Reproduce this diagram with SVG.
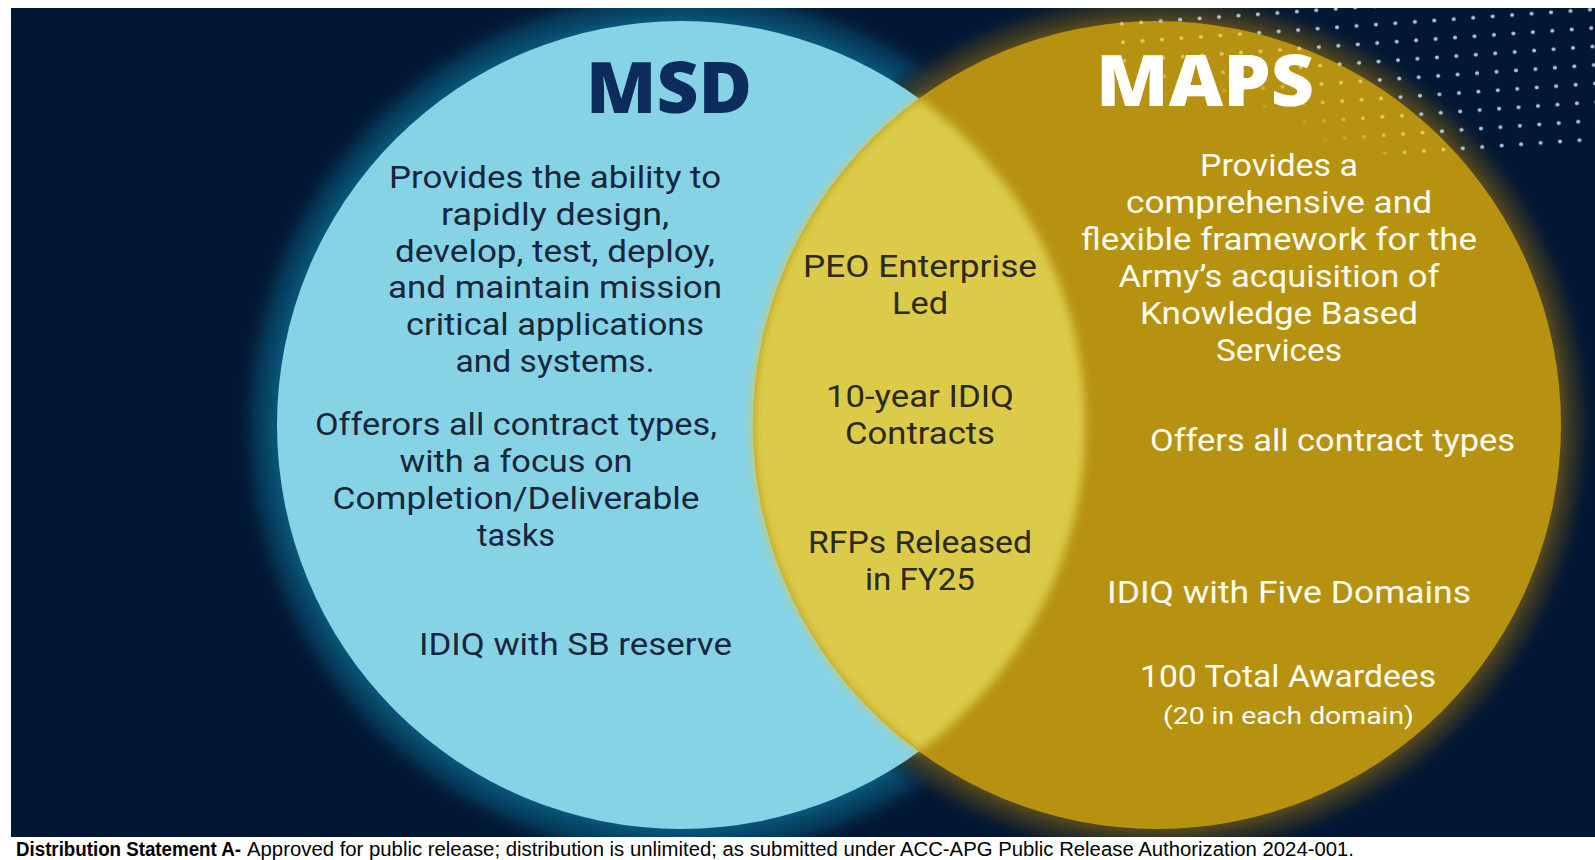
<svg xmlns="http://www.w3.org/2000/svg" width="1595" height="860" viewBox="0 0 1595 860">
  <defs>
    <style>
      .body{font-family:Roboto,"Open Sans","Liberation Sans",sans-serif;font-size:30.5px;text-anchor:middle}
      .small{font-size:24px}
      .dark{fill:#17263a}
      .mid{fill:#2b2a1d}
      .light{fill:#fffdf2}
      .head{font-family:"Open Sans","Liberation Sans",sans-serif;font-weight:800;font-size:70px;text-anchor:middle}
      .foot{font-family:"Liberation Sans",Arial,sans-serif;font-size:20px;fill:#000}
      .footb{font-weight:700}
    </style>
    <clipPath id="panelClip"><rect x="11" y="8" width="1584" height="829"/></clipPath>
    <clipPath id="mapsClip"><circle cx="1157" cy="425" r="404"/></clipPath>
    <radialGradient id="msdGlow" gradientUnits="userSpaceOnUse" cx="681" cy="425" r="448">
      <stop offset="0.88" stop-color="#0a5b7c"/>
      <stop offset="0.9" stop-color="#09587a"/>
      <stop offset="0.95" stop-color="#063e5e" stop-opacity="0.8"/>
      <stop offset="1" stop-color="#021734" stop-opacity="0"/>
    </radialGradient>
    <radialGradient id="mapsGlow" gradientUnits="userSpaceOnUse" cx="1157" cy="425" r="440">
      <stop offset="0.9" stop-color="#5e4f1c"/>
      <stop offset="0.918" stop-color="#56491e"/>
      <stop offset="0.96" stop-color="#2e3026" stop-opacity="0.7"/>
      <stop offset="1" stop-color="#021734" stop-opacity="0"/>
    </radialGradient>
    <radialGradient id="edgeBand" gradientUnits="userSpaceOnUse" cx="1157" cy="425" r="404">
      <stop offset="0.8" stop-color="#fff" stop-opacity="0"/>
      <stop offset="0.93" stop-color="#fff" stop-opacity="1"/>
    </radialGradient>
    <mask id="edgeMask" maskUnits="userSpaceOnUse" x="0" y="0" width="1595" height="860">
      <rect x="0" y="0" width="1595" height="860" fill="url(#edgeBand)"/>
    </mask>
    <pattern id="dotsCool" width="19.5" height="18.5" patternUnits="userSpaceOnUse" patternTransform="rotate(-4 1595 0)">
      <circle cx="9.75" cy="9.25" r="2" fill="#c4e4f1"/>
    </pattern>
    <pattern id="dotsWarm" width="19.5" height="18.5" patternUnits="userSpaceOnUse" patternTransform="rotate(-4 1595 0)">
      <circle cx="9.75" cy="9.25" r="2" fill="#efd97a"/>
    </pattern>
    <filter id="soften" x="-10%" y="-10%" width="120%" height="120%">
      <feGaussianBlur stdDeviation="5"/>
    </filter>
  </defs>

  <!-- page and dark panel -->
  <rect x="0" y="0" width="1595" height="860" fill="#ffffff"/>
  <g id="backdrop" clip-path="url(#panelClip)">
    <rect x="11" y="8" width="1584" height="829" fill="#021734"/>
    <circle cx="681" cy="425" r="448" fill="url(#msdGlow)"/>
    <circle cx="1157" cy="425" r="440" fill="url(#mapsGlow)"/>
    <rect x="1110" y="8" width="485" height="146" fill="url(#dotsCool)" opacity="0.85"/>

    <g id="msd-circle">
      <circle cx="681" cy="425" r="404" fill="#87d3e6"/>
    </g>
    <g id="maps-circle">
      <circle cx="1157" cy="425" r="404" fill="#b79211"/>
      <g clip-path="url(#mapsClip)">
        <rect x="1110" y="8" width="485" height="146" fill="url(#dotsWarm)" mask="url(#edgeMask)" opacity="0.8"/>
      </g>
    </g>
    <g id="overlap-lens">
      <path d="M919,98.5 A404,404 0 0,1 919,751.5 A404,404 0 0,1 919,98.5 Z" fill="#dbcb48" filter="url(#soften)"/>
    </g>
  </g>

  <!-- MSD labels -->
  <g id="msd">
    <text class="head" x="669" y="113" fill="#0c2c5e" textLength="166" lengthAdjust="spacingAndGlyphs">MSD</text>
    <g class="body dark">
      <text x="555" y="188" textLength="332" lengthAdjust="spacingAndGlyphs">Provides the ability to</text>
      <text x="555" y="224.8" textLength="228" lengthAdjust="spacingAndGlyphs">rapidly design,</text>
      <text x="555" y="261.6" textLength="320" lengthAdjust="spacingAndGlyphs">develop, test, deploy,</text>
      <text x="555" y="298.4" textLength="334" lengthAdjust="spacingAndGlyphs">and maintain mission</text>
      <text x="555" y="335.2" textLength="298" lengthAdjust="spacingAndGlyphs">critical applications</text>
      <text x="555" y="372" textLength="199" lengthAdjust="spacingAndGlyphs">and systems.</text>
      <text x="516" y="435" textLength="402" lengthAdjust="spacingAndGlyphs">Offerors all contract types,</text>
      <text x="516" y="472" textLength="233" lengthAdjust="spacingAndGlyphs">with a focus on</text>
      <text x="516" y="509" textLength="367" lengthAdjust="spacingAndGlyphs">Completion/Deliverable</text>
      <text x="516" y="546" textLength="78" lengthAdjust="spacingAndGlyphs">tasks</text>
      <text x="575.5" y="655" textLength="313" lengthAdjust="spacingAndGlyphs">IDIQ with SB reserve</text>
    </g>
  </g>

  <!-- shared items -->
  <g id="overlap">
    <g class="body mid">
      <text x="920" y="277" textLength="234" lengthAdjust="spacingAndGlyphs">PEO Enterprise</text>
      <text x="920" y="313.5" textLength="56" lengthAdjust="spacingAndGlyphs">Led</text>
      <text x="920" y="407" textLength="188" lengthAdjust="spacingAndGlyphs">10-year IDIQ</text>
      <text x="920" y="443.5" textLength="150" lengthAdjust="spacingAndGlyphs">Contracts</text>
      <text x="920" y="553" textLength="224" lengthAdjust="spacingAndGlyphs">RFPs Released</text>
      <text x="920" y="590" textLength="110" lengthAdjust="spacingAndGlyphs">in FY25</text>
    </g>
  </g>

  <!-- MAPS labels -->
  <g id="maps">
    <text class="head" x="1205" y="106" fill="#ffffff" textLength="218" lengthAdjust="spacingAndGlyphs">MAPS</text>
    <g class="body light">
      <text x="1279" y="176" textLength="158" lengthAdjust="spacingAndGlyphs">Provides a</text>
      <text x="1279" y="213" textLength="306" lengthAdjust="spacingAndGlyphs">comprehensive and</text>
      <text x="1279" y="250" textLength="396" lengthAdjust="spacingAndGlyphs">flexible framework for the</text>
      <text x="1279" y="287" textLength="321" lengthAdjust="spacingAndGlyphs">Army’s acquisition of</text>
      <text x="1279" y="323.5" textLength="278" lengthAdjust="spacingAndGlyphs">Knowledge Based</text>
      <text x="1279" y="361" textLength="126" lengthAdjust="spacingAndGlyphs">Services</text>
      <text x="1332.5" y="451" textLength="365" lengthAdjust="spacingAndGlyphs">Offers all contract types</text>
      <text x="1289" y="603" textLength="364" lengthAdjust="spacingAndGlyphs">IDIQ with Five Domains</text>
      <text x="1288" y="687" textLength="296" lengthAdjust="spacingAndGlyphs">100 Total Awardees</text>
      <text class="small" x="1288.5" y="724" textLength="251" lengthAdjust="spacingAndGlyphs">(20 in each domain)</text>
    </g>
  </g>

  <!-- release statement -->
  <g id="footer">
    <text class="foot footb" x="16" y="856" textLength="225" lengthAdjust="spacingAndGlyphs">Distribution Statement A-</text>
    <text class="foot" x="247" y="856" textLength="1107" lengthAdjust="spacingAndGlyphs">Approved for public release; distribution is unlimited; as submitted under ACC-APG Public Release Authorization 2024-001.</text>
  </g>
</svg>
